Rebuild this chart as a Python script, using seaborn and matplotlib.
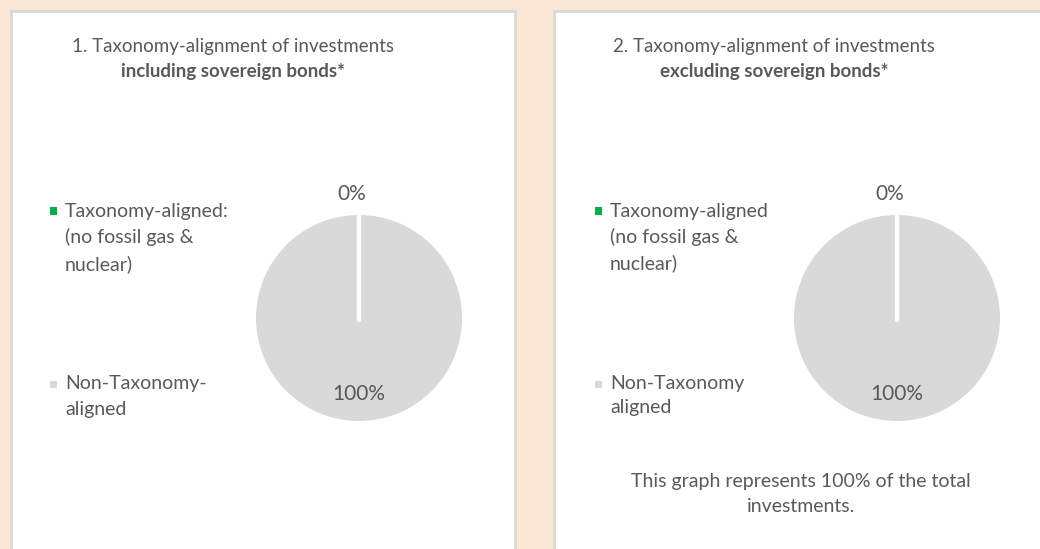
import matplotlib
matplotlib.use("Agg")
import numpy as np
import matplotlib.pyplot as plt
from matplotlib.patches import Rectangle
import seaborn as sns

# ---- data ----
categories = ["Taxonomy-aligned", "Non-Taxonomy-aligned"]
values_incl = [0, 100]
values_excl = [0, 100]
pct_labels_incl = ["0%", "100%"]
pct_labels_excl = ["0%", "100%"]
legend_incl = [["Taxonomy-aligned:", "(no fossil gas &", "nuclear)"], ["Non-Taxonomy-", "aligned"]]
legend_excl = [["Taxonomy-aligned", "(no fossil gas &", "nuclear)"], ["Non-Taxonomy", "aligned"]]
title1 = ["1. Taxonomy-alignment of investments", "including sovereign bonds*"]
title2 = ["2. Taxonomy-alignment of investments", "excluding sovereign bonds*"]
footnote = ["This graph represents 100% of the total", "investments."]

colors = ["#00B050", "#D9D9D9"]
BG = "#FBE7D6"
TXT = "#595959"
FS = 14

sns.set_theme(style="white")
plt.rcParams["font.family"] = ["Lato", "DejaVu Sans"]

W, H = 1040, 549
fig = plt.figure(figsize=(W / 100, H / 100), dpi=100)
fig.patch.set_facecolor(BG)


def fx(x):
    return x / W


def fy(y):
    return 1 - y / H


# panels
for (x0, x1) in [(11, 515), (554, 1045)]:
    fig.patches.append(Rectangle((fx(x0), fy(560)), fx(x1 - x0), (560 - 11) / H,
                                 transform=fig.transFigure, facecolor="white",
                                 edgecolor="#D9D9D9", linewidth=2, zorder=-5))


def ftext(x, y, s, **kw):
    kw.setdefault("color", TXT)
    kw.setdefault("fontsize", FS)
    fig.text(fx(x), fy(y), s, va="center", **kw)


def draw_pie(cx, cy, r, vals, labels):
    ax = fig.add_axes([fx(cx - r), fy(cy + r), fx(2 * r), 2 * r / H])
    ax.set_zorder(2)
    ax.patch.set_alpha(0)
    wedges, _ = ax.pie(vals, colors=colors, startangle=90, counterclock=False,
                       radius=1.0, wedgeprops=dict(linewidth=0))
    # white separators at the wedge boundaries
    for w in wedges:
        a = np.deg2rad(w.theta1)
        ax.plot([0.0, 1.02 * np.cos(a)], [-0.02, 1.02 * np.sin(a)],
                color="white", lw=3, solid_capstyle="round", zorder=5)
    dist = [1.2, 0.74]
    offs = [(-5, 0), (0, 0)]
    for w, lab, d, off in zip(wedges, labels, dist, offs):
        ang = np.deg2rad((w.theta1 + w.theta2) / 2)
        ax.annotate(lab, (d * np.cos(ang), d * np.sin(ang)), xytext=off,
                    textcoords="offset points", ha="center", va="center",
                    fontsize=15, color=TXT, annotation_clip=False)
    ax.set_xlim(-1, 1)
    ax.set_ylim(-1, 1)
    ax.set_aspect("equal")
    ax.axis("off")


draw_pie(359, 318, 103, values_incl, pct_labels_incl)
draw_pie(897, 318, 103, values_excl, pct_labels_excl)

# titles
ftext(233, 47, title1[0], ha="center", fontsize=13.5)
ftext(233, 72, title1[1], ha="center", fontsize=13.5, fontweight="bold")
ftext(774, 47, title2[0], ha="center", fontsize=13.5)
ftext(774, 72, title2[1], ha="center", fontsize=13.5, fontweight="bold")


def legend(xs, xt, groups, ys):
    for g, (lines, y0s) in enumerate(zip(groups, ys)):
        fig.patches.append(Rectangle((fx(xs), fy(y0s[0] + 3.5)), fx(7), 7 / H,
                                     transform=fig.transFigure, facecolor=colors[g],
                                     edgecolor="none", zorder=3))
        for line, y in zip(lines, y0s):
            ftext(xt, y, line, ha="left")


legend(50, 65, legend_incl, [[211, 237, 264], [384, 409]])
legend(595, 610, legend_excl, [[211, 237, 263], [384, 408]])

ftext(801, 482, footnote[0], ha="center")
ftext(801, 506, footnote[1], ha="center")

fig.savefig("out.png", dpi=100, facecolor=BG)
